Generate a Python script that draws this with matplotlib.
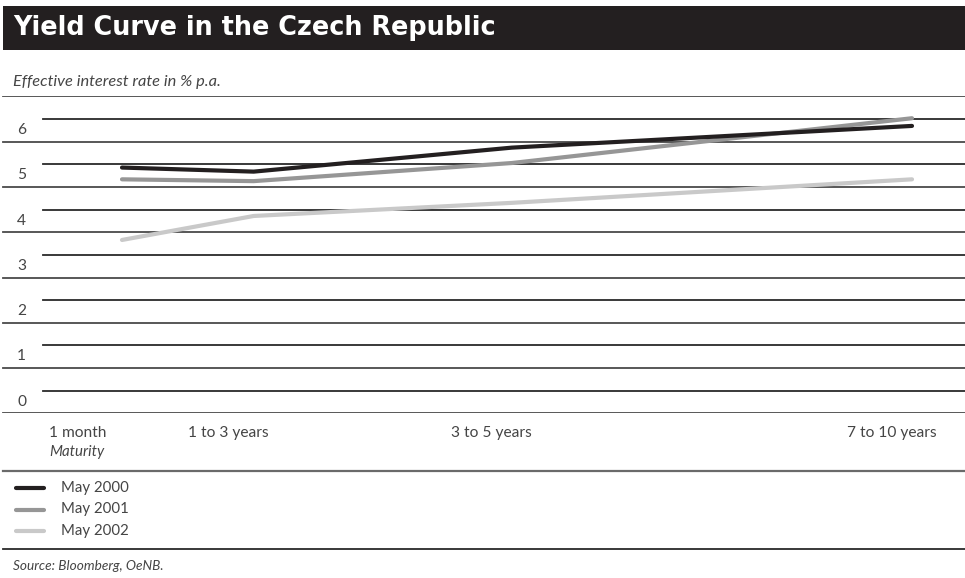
import matplotlib
matplotlib.use("Agg")
import matplotlib.pyplot as plt
from matplotlib.lines import Line2D
from matplotlib.patches import Rectangle

# ---- data -------------------------------------------------------------
maturities = ["1 month", "1 to 3 years", "3 to 5 years", "7 to 10 years"]
maturity_x = [0.0, 1.0, 2.96, 6.0]          # position of each maturity bucket
may_2000 = [5.43, 5.34, 5.87, 6.35]
may_2001 = [5.17, 5.13, 5.53, 6.52]
may_2002 = [3.83, 4.36, 4.65, 5.17]
series_labels = ["May 2000", "May 2001", "May 2002"]
y_ticks = [0, 1, 2, 3, 4, 5, 6]

# ---- styling ----------------------------------------------------------
W, H = 965, 578
DARK = "#231f20"
TEXT = "#454545"
RULE = "#4a4a4a"
series_colors = ["#231f20", "#969696", "#c9c9c9"]
FONT = ["Lato", "DejaVu Sans"]
plt.rcParams["font.family"] = FONT

fig = plt.figure(figsize=(W / 100, H / 100), dpi=100)


def fx(px):
    return px / W


def fy(py):
    return 1 - py / H


# title bar
fig.add_artist(Rectangle((fx(3), fy(50)), 1 - fx(3), (50 - 6) / H,
                         transform=fig.transFigure, color=DARK, lw=0))
fig.text(fx(13), fy(28), "Yield Curve in the Czech Republic", color="white",
         fontsize=18.4, fontweight="bold", family=["DejaVu Sans"],
         va="center", ha="left")

fig.text(fx(13), fy(82), "Effective interest rate in % p.a.", color=TEXT,
         fontsize=11.8, style="italic", va="center", ha="left")

# plotting area: value 0 at the bottom rule, 7 at the top rule
y_bottom_px, y_top_px = 413.3, 96.5
ax = fig.add_axes([0, fy(y_bottom_px), 1, (y_bottom_px - y_top_px) / H])
unit = (912 - 122) / (maturity_x[-1] - maturity_x[0])
ax.set_xlim(maturity_x[0] - 122 / unit, maturity_x[0] + (W - 122) / unit)
ax.set_ylim(0, 7)
ax.axis("off")

# alternating rules: long ones on whole numbers, short ones half way between
for v in range(0, 8):
    ax.axhline(v, xmin=fx(3), xmax=1, color=RULE, lw=1.3)
for v in range(0, 7):
    ax.axhline(v + 0.5, xmin=fx(43), xmax=1, color="#2a2a2a", lw=1.3)

for t in y_ticks:
    ax.text(fx(17), t + 0.26, str(t), transform=ax.get_yaxis_transform(),
            color=TEXT, fontsize=11.2, va="center", ha="left")

for values, color in zip([may_2002, may_2001, may_2000], series_colors[::-1]):
    ax.plot(maturity_x, values, color=color, lw=3.0,
            solid_capstyle="round", solid_joinstyle="round", zorder=3)

# maturity labels
label_left_px = [49, 188, 451, 847]
for name, px in zip(maturities, label_left_px):
    fig.text(fx(px), fy(433), name, color=TEXT, fontsize=11.2,
             va="center", ha="left")
fig.text(fx(49), fy(452), "Maturity", color=TEXT, fontsize=10.8,
         style="italic", va="center", ha="left")

fig.add_artist(Line2D([fx(3), 1], [fy(471)] * 2, color="#6a6a6a", lw=1.6))

# legend
for i, (lab, color) in enumerate(zip(series_labels, series_colors)):
    yy = 488 + i * 21.5
    fig.add_artist(Line2D([fx(16), fx(44)], [fy(yy)] * 2, color=color,
                          lw=3.0, solid_capstyle="round"))
    fig.text(fx(61), fy(yy), lab, color=TEXT, fontsize=10.8,
             va="center", ha="left")

fig.add_artist(Line2D([fx(3), 1], [fy(549)] * 2, color="#2a2a2a", lw=1.3))

fig.text(fx(13), fy(566), "Source: Bloomberg, OeNB.", color=TEXT,
         fontsize=9.8, style="italic", va="center", ha="left")

fig.savefig("out.png", dpi=100)
